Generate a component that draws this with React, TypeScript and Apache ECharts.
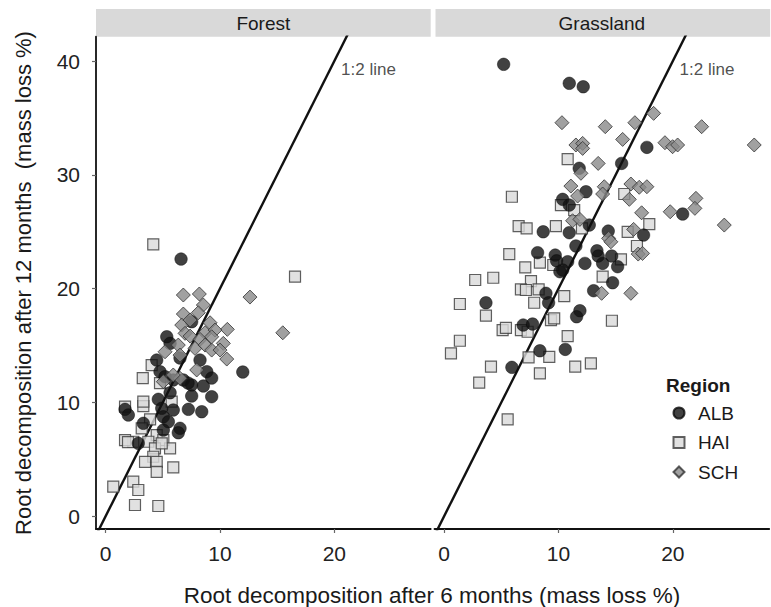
import React, { useEffect, useRef } from "react";
import * as echarts from "echarts";

const FONT = "'Liberation Sans', Arial, Helvetica, sans-serif";

const facets = ["Forest", "Grassland"];
const regions = ["ALB", "HAI", "SCH"];
const xTicks = [0, 10, 20];
const yTicks = [0, 10, 20, 30, 40];
const xRange = [-0.85, 28.43];
const yRange = [-1.14, 42.14];
const ratioLine = [[-1, -2], [22, 44]];
const ratioLabelAt = [20.5, 39.3];
const ratioLabel = "1:2 line";
const xTitle = "Root decomposition after 6 months (mass loss %)";
const yTitle = "Root decomposition after 12 months  (mass loss %)";
const legendTitle = "Region";

// Forest panel
const forestALB = [
  [6.59, 22.59], [7.52, 17.08], [5.34, 15.76], [5.63, 15.18], [4.46, 13.71], [6.5, 13.89],
  [8.25, 13.71], [11.99, 12.66], [8.84, 12.69], [9.27, 12.13], [4.75, 12.69], [5.19, 12.25],
  [6.79, 11.96], [7.52, 11.52], [5.91, 11.96], [8.54, 11.43], [7.52, 10.55], [9.27, 10.49],
  [5.63, 10.84], [4.6, 10.26], [5.91, 9.32], [7.23, 9.38], [8.4, 9.17], [4.9, 9.47],
  [5.04, 8.73], [5.48, 8.29], [3.29, 8.15], [6.5, 7.71], [6.35, 7.32], [5.04, 7.56],
  [2.85, 6.39], [1.69, 9.38], [1.98, 8.88], [7.2, 11.69],
];
const forestHAI = [
  [4.16, 23.89], [16.56, 21.04], [4.02, 13.27], [3.24, 12.13], [3.29, 9.67], [5.77, 10.05],
  [3.88, 8.5], [3.15, 7.71], [4.46, 7.12], [3.73, 6.53], [5.04, 6.68], [5.63, 5.95],
  [4.31, 5.95], [4.16, 5.21], [3.44, 4.77], [4.46, 4.77], [5.91, 4.28], [2.41, 6.53],
  [1.69, 9.61], [3.29, 10.05], [1.69, 6.68], [4.9, 6.39], [4.46, 3.89], [2.41, 3.02],
  [2.85, 2.29], [0.66, 2.58], [2.56, 0.97], [4.6, 0.88], [1.95, 6.5], [4.75, 11.69],
];
const forestSCH = [
  [6.79, 19.43], [8.19, 19.52], [8.54, 18.55], [6.79, 17.76], [8.1, 17.87], [12.62, 19.25],
  [6.65, 16.79], [9.13, 16.99], [10.64, 16.41], [6.94, 16.06], [7.38, 15.82], [8.69, 16.11],
  [9.56, 16.35], [8.25, 15.53], [9.27, 15.76], [10.29, 15.18], [6.35, 15.03], [7.81, 14.74],
  [8.69, 15.03], [9.27, 14.59], [10.0, 14.59], [5.19, 14.44], [10.59, 13.8], [6.5, 14.15],
  [7.96, 12.84], [5.04, 11.81], [15.49, 16.11], [6.5, 12.11], [5.91, 12.4], [7.38, 17.23],
];

// Grassland panel
const grassALB = [
  [5.2, 39.71], [10.94, 38.04], [12.16, 37.74], [11.81, 30.57], [12.4, 28.51], [10.36, 27.84],
  [10.94, 27.34], [12.69, 25.58], [8.66, 24.99], [10.94, 24.91], [17.73, 32.41], [15.52, 31.0],
  [20.86, 26.55], [14.35, 25.05], [17.44, 24.7], [11.52, 23.74], [13.36, 23.32], [13.47, 22.86],
  [14.65, 22.86], [13.86, 22.21], [15.17, 21.92], [12.31, 22.21], [10.8, 22.36], [10.36, 21.63],
  [14.73, 20.51], [13.07, 19.81], [8.17, 23.15], [9.71, 22.94], [9.83, 22.44], [10.12, 21.48],
  [3.65, 18.75], [8.9, 19.58], [9.13, 18.75], [11.87, 18.05], [11.58, 17.52], [6.91, 16.79],
  [7.73, 16.88], [8.37, 14.53], [10.59, 14.65], [5.92, 13.07],
];
const grassHAI = [
  [10.8, 31.38], [5.92, 28.07], [10.21, 27.34], [11.37, 26.9], [6.51, 25.49], [7.21, 25.29],
  [9.77, 25.49], [12.05, 25.29], [15.75, 28.31], [17.94, 25.67], [16.05, 24.99], [16.86, 23.74],
  [15.46, 22.57], [13.86, 21.04], [10.5, 19.34], [5.69, 23.03], [7.09, 21.86], [8.37, 22.27],
  [9.54, 22.07], [2.71, 20.75], [4.29, 20.95], [7.59, 20.66], [6.71, 19.93], [7.15, 19.87],
  [8.26, 19.93], [1.37, 18.64], [7.87, 18.75], [3.65, 17.61], [5.11, 16.35], [5.4, 16.55],
  [6.71, 16.35], [7.3, 16.2], [9.34, 17.23], [9.62, 17.38], [14.67, 17.17], [1.37, 15.41],
  [0.59, 14.3], [10.8, 15.82], [7.38, 13.95], [9.19, 14.0], [4.09, 13.13], [8.37, 12.54],
  [3.06, 11.72], [11.46, 13.13], [12.83, 13.42], [5.55, 8.5],
];
const grassSCH = [
  [10.3, 34.58], [14.09, 34.23], [11.52, 32.62], [12.11, 32.76], [12.11, 32.32], [13.47, 31.0],
  [11.96, 30.13], [11.08, 29.01], [11.67, 28.13], [14.0, 28.95], [13.86, 28.31], [11.23, 25.96],
  [11.87, 26.08], [16.68, 34.58], [18.32, 35.4], [22.52, 34.23], [27.12, 32.62], [15.61, 33.11],
  [19.31, 32.82], [19.98, 32.47], [20.42, 32.62], [16.33, 29.19], [17.06, 28.9], [17.73, 28.95],
  [16.19, 27.84], [17.27, 26.66], [19.77, 26.75], [22.02, 27.93], [21.93, 27.05], [24.5, 25.58],
  [16.57, 25.2], [14.38, 24.41], [14.58, 24.11], [16.97, 23.03], [17.35, 23.09], [13.77, 19.58],
  [16.33, 19.58],
];

const panelData = [
  { ALB: forestALB, HAI: forestHAI, SCH: forestSCH },
  { ALB: grassALB, HAI: grassHAI, SCH: grassSCH },
];

const regionStyle: Record<string, any> = {
  ALB: { symbol: "circle", symbolSize: 12.5, itemStyle: { color: "#111111", borderColor: "#0a0a0a", borderWidth: 0.6 } },
  HAI: { symbol: "rect", symbolSize: 11, itemStyle: { color: "#DADADA", borderColor: "#3a3a3a", borderWidth: 1.2 } },
  SCH: { symbol: "diamond", symbolSize: 14, itemStyle: { color: "#8A8A8A", borderColor: "#333333", borderWidth: 1 } },
};

const GRID_TOP = 36.7;
const GRID_H = 492.3;
const GRID_W = 334.7;
const GRID_LEFTS = [96, 434.5];

export default function App() {
  const ref = useRef<HTMLDivElement>(null);
  useEffect(() => {
    if (!ref.current) return;
    const chart = echarts.init(ref.current, undefined, { renderer: "svg" });

    const grids = GRID_LEFTS.map((left) => ({ left, top: GRID_TOP, width: GRID_W, height: GRID_H }));

    const xAxes = facets.map((_, i) => ({
      gridIndex: i,
      type: "value",
      min: xRange[0],
      max: xRange[1],
      splitLine: { show: false },
      axisLine: { show: true, onZero: false, lineStyle: { color: "#111", width: 1.8 } },
      axisTick: { show: true, customValues: xTicks, length: 4, lineStyle: { color: "#666", width: 1.2 } },
      axisLabel: { customValues: xTicks, fontSize: 21, color: "#222", margin: 14, fontFamily: FONT },
    }));

    const yAxes = facets.map((_, i) => ({
      gridIndex: i,
      type: "value",
      min: yRange[0],
      max: yRange[1],
      splitLine: { show: false },
      axisLine: { show: i === 0, onZero: false, lineStyle: { color: "#111", width: 1.8 } },
      axisTick: { show: i === 0, customValues: yTicks, length: 4, lineStyle: { color: "#666", width: 1.2 } },
      axisLabel: { show: i === 0, customValues: yTicks, fontSize: 21, color: "#222", margin: 16, fontFamily: FONT },
    }));

    const series: any[] = [];
    facets.forEach((_, i) => {
      series.push({
        type: "line",
        xAxisIndex: i,
        yAxisIndex: i,
        data: ratioLine,
        symbol: "none",
        clip: true,
        silent: true,
        lineStyle: { color: "#111", width: 2.4 },
        z: 1,
      });
      series.push({
        type: "scatter",
        xAxisIndex: i,
        yAxisIndex: i,
        data: [ratioLabelAt],
        symbolSize: 2,
        silent: true,
        itemStyle: { color: "rgba(0,0,0,0)" },
        label: {
          show: true,
          position: "right",
          distance: 0,
          formatter: ratioLabel,
          fontSize: 17,
          color: "#222",
          fontFamily: FONT,
        },
        z: 4,
      });
      ["HAI", "ALB", "SCH"].forEach((r) => {
        series.push({
          name: r,
          type: "scatter",
          xAxisIndex: i,
          yAxisIndex: i,
          data: (panelData[i] as any)[r],
          ...regionStyle[r],
          z: 3,
        });
      });
    });

    const graphics: any[] = [];
    facets.forEach((f, i) => {
      graphics.push({
        type: "rect",
        shape: { x: GRID_LEFTS[i] + (i === 1 ? 1 : 0), y: 9, width: GRID_W, height: GRID_TOP - 9 },
        style: { fill: "#D9D9D9" },
        silent: true,
      });
      graphics.push({
        type: "text",
        x: GRID_LEFTS[i] + GRID_W / 2,
        y: 23.5,
        style: { text: f, fontSize: 19, fill: "#1a1a1a", fontFamily: FONT, textAlign: "center", textVerticalAlign: "middle" },
        silent: true,
      });
    });
    graphics.push({
      type: "text",
      x: 432,
      y: 595,
      style: { text: xTitle, fontSize: 22.5, fill: "#1a1a1a", fontFamily: FONT, textAlign: "center", textVerticalAlign: "middle" },
    });
    graphics.push({
      type: "text",
      x: 23,
      y: 283,
      rotation: Math.PI / 2,
      style: { text: yTitle, fontSize: 22, fill: "#1a1a1a", fontFamily: FONT, textAlign: "center", textVerticalAlign: "middle" },
    });
    graphics.push({
      type: "text",
      x: 666,
      y: 385,
      style: { text: legendTitle, fontSize: 19, fontWeight: "bold", fill: "#1a1a1a", fontFamily: FONT, textAlign: "left", textVerticalAlign: "middle" },
    });

    chart.setOption({
      animation: false,
      backgroundColor: "#ffffff",
      grid: grids,
      xAxis: xAxes,
      yAxis: yAxes,
      legend: {
        data: regions,
        orient: "vertical",
        left: 672.5,
        top: 403.5,
        padding: 0,
        itemWidth: 11,
        itemHeight: 11,
        itemGap: 10.5,
        textStyle: { fontSize: 19, color: "#1a1a1a", fontFamily: FONT, padding: [0, 0, 0, 8.5], lineHeight: 19 },
        selectedMode: false,
      },
      graphic: graphics,
      series,
    });
    return () => chart.dispose();
  }, []);
  return <div ref={ref} style={{ position: "fixed", left: 0, top: 0, width: 771, height: 607 }} />;
}
